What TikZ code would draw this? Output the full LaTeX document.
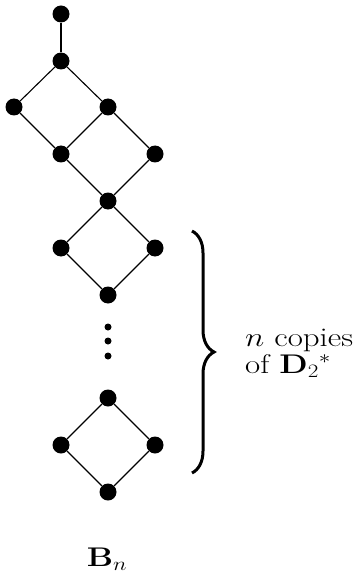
\documentclass[tikz,border=0pt]{standalone}
\usepackage{graphicx}
\usepackage{fix-cm}
\usetikzlibrary{decorations.pathreplacing}
\tikzset{
  vtx/.style={circle,fill=black,inner sep=0pt,minimum size=17pt},
  sdot/.style={circle,fill=black,inner sep=0pt,minimum size=7pt},
  edge/.style={line width=1.1pt},
  lbl/.style={inner sep=0pt,font=\fontsize{27}{27}\selectfont}
}
\newcommand{\wide}[1]{\scalebox{1.22}[1]{#1}}
\begin{document}
\begin{tikzpicture}[x=1pt,y=-1pt]
\useasboundingbox (0,0) rectangle (357,580);
\node[vtx] (a) at (61,14) {};
\node[vtx] (b) at (61,61) {};
\node[vtx] (c) at (14,107) {};
\node[vtx] (d) at (108,107) {};
\node[vtx] (e) at (61,154) {};
\node[vtx] (f) at (155,154) {};
\node[vtx] (g) at (108,201) {};
\node[vtx] (h) at (61,248) {};
\node[vtx] (i) at (155,248) {};
\node[vtx] (j) at (108,295) {};
\node[sdot] (d1) at (108,327) {};
\node[sdot] (d2) at (108,341) {};
\node[sdot] (d3) at (108,356) {};
\node[vtx] (k) at (108,398) {};
\node[vtx] (l) at (61,445) {};
\node[vtx] (m) at (155,445) {};
\node[vtx] (o) at (108,492) {};
\draw[edge] (a) -- (b);
\draw[edge] (b) -- (c);
\draw[edge] (b) -- (d);
\draw[edge] (c) -- (e);
\draw[edge] (d) -- (e);
\draw[edge] (d) -- (f);
\draw[edge] (e) -- (g);
\draw[edge] (f) -- (g);
\draw[edge] (g) -- (h);
\draw[edge] (g) -- (i);
\draw[edge] (h) -- (j);
\draw[edge] (i) -- (j);
\draw[edge] (k) -- (l);
\draw[edge] (k) -- (m);
\draw[edge] (l) -- (o);
\draw[edge] (m) -- (o);
\coordinate (bt) at (192,231);
\coordinate (bb) at (192,473);
\draw[line width=3pt,decorate,decoration={brace,amplitude=22pt}] (bt) -- (bb);
\node[lbl,anchor=base west,align=left] (t1) at (245,373) {\wide{$n$ copies}\\\wide{of $\mathbf{D}_2{}^*$}};
\node[lbl,anchor=base] (bn) at (107,566) {\wide{$\mathbf{B}_n$}};
\end{tikzpicture}
\end{document}
